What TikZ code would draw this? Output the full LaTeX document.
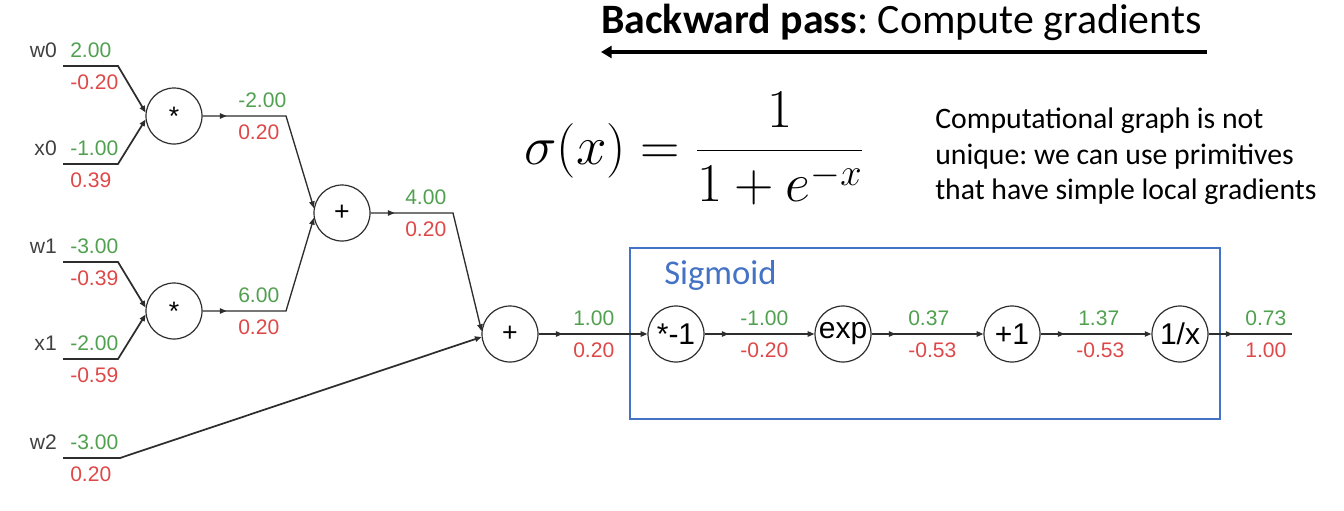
\RequirePackage{fix-cm}
\documentclass[tikz,border=0pt]{standalone}
\usepackage[no-math]{fontspec}
\newfontfamily\numfont{Liberation Sans}
\newfontfamily\calibri{Carlito}
\usetikzlibrary{arrows.meta,decorations.markings}
\definecolor{numgreen}{RGB}{80,160,80}
\definecolor{numred}{RGB}{222,72,72}
\definecolor{sigblue}{RGB}{68,114,196}
\definecolor{wiregray}{RGB}{45,45,45}
\newcommand{\astx}{\raisebox{-0.22em}{*}}
\frenchspacing
\begin{document}
\begin{tikzpicture}[x=0.75pt,y=-0.75pt,
  op/.style={circle,draw=wiregray,line width=0.9pt,minimum size=42pt,inner sep=0pt,font=\numfont\fontsize{20}{20}\selectfont},
  sop/.style={op,font=\numfont\fontsize{22.5}{22.5}\selectfont},
  wire/.style={draw=wiregray,line width=1pt},
  inwire/.style={wire,line width=1.3pt},
  tip/.style={-{Triangle[length=5pt,width=4pt]}},
  midarrow/.style={postaction={decorate},decoration={markings,mark=at position 18pt with {\arrow{Triangle[length=5pt,width=4pt]}}}},
  gv/.style={font=\numfont\fontsize{15.8}{15.8}\selectfont,text=numgreen,inner sep=0pt,anchor=base west},
  rv/.style={gv,text=numred},
  nm/.style={font=\numfont\fontsize{15.8}{15.8}\selectfont,text=black!75,inner sep=0pt,anchor=base east},
  sigbox/.style={draw=sigblue,line width=2.2pt},
  cal/.style={font=\calibri\fontsize{22.3}{26}\selectfont,inner sep=0pt,anchor=base west}
]
\useasboundingbox (0,0) rectangle (1344,510);

% title and arrow
\node[anchor=base west,inner sep=0pt,font=\calibri\fontsize{31.4}{31.4}\selectfont] (title) at (601,34) {\textbf{Backward pass}: Compute gradients};
\coordinate (ar1) at (1207,52);
\coordinate (ar0) at (601,52);
\draw[line width=3pt,-{Triangle[length=8pt,width=9pt]}] (ar1) -- (ar0);

% formula
\node[anchor=base west,inner sep=0pt,font=\fontsize{41}{46}\selectfont] (formula) at (524,164) {$\displaystyle\sigma(x)=\frac{1}{1+e^{-x}}$};

% remark
\node[cal] (r1) at (935,128) {Computational graph is not};
\node[cal] (r2) at (935,164) {unique: we can use primitives};
\node[cal] (r3) at (935,199) {that have simple local gradients};

% sigmoid box
\draw[sigbox] (630,248) rectangle (1220,419);
\node[anchor=base west,inner sep=0pt,text=sigblue,font=\calibri\fontsize{26}{26}\selectfont] (sig) at (664,284) {Sigmoid};

% operation nodes
\node[op] (mul0) at (174,116) {\astx};
\node[op] (mul1) at (174,311) {\astx};
\node[op] (add0) at (342,213) {+};
\node[op] (add1) at (510,334) {+};
\node[sop] (neg) at (676,334) {*-1};
\node[sop] (ex) at (843,334) {exp};
\node[sop] (pone) at (1012,334) {+1};
\node[sop] (inv) at (1180,334) {1/x};

% wire coordinates
\coordinate (w0s) at (63,66);   \coordinate (w0b) at (118,66);
\coordinate (x0s) at (63,164);  \coordinate (x0b) at (118,164);
\coordinate (w1s) at (63,262);  \coordinate (w1b) at (118,262);
\coordinate (x1s) at (63,359);  \coordinate (x1b) at (118,359);
\coordinate (w2s) at (63,458);  \coordinate (w2b) at (120,458);
\coordinate (m0b) at (286,116);
\coordinate (m1b) at (286,311);
\coordinate (a0b) at (453,213);
\coordinate (out) at (1292,334);

% input wires
\draw[inwire,tip] (w0s) -- (w0b) -- (mul0.173);
\draw[inwire,tip] (x0s) -- (x0b) -- (mul0.187);
\draw[inwire,tip] (w1s) -- (w1b) -- (mul1.173);
\draw[inwire,tip] (x1s) -- (x1b) -- (mul1.187);
\draw[inwire,tip] (w2s) -- (w2b) -- (add1.186);

% internal wires
\draw[wire,midarrow,tip] (mul0.east) -- (m0b) -- (add0.170);
\draw[wire,midarrow,tip] (mul1.east) -- (m1b) -- (add0.190);
\draw[wire,midarrow,tip] (add0.east) -- (a0b) -- (add1.174);
\draw[wire,midarrow,tip] (add1.east) -- (neg.west);
\draw[wire,midarrow,tip] (neg.east) -- (ex.west);
\draw[wire,midarrow,tip] (ex.east) -- (pone.west);
\draw[wire,midarrow,tip] (pone.east) -- (inv.west);
\draw[wire,midarrow] (inv.east) -- (out);

% input names
\node[nm] (nw0) at (57,57.5) {w0};
\node[nm] (nx0) at (57,155.5) {x0};
\node[nm] (nw1) at (57,253.5) {w1};
\node[nm] (nx1) at (57,350.5) {x1};
\node[nm] (nw2) at (57,449.5) {w2};

% values (green forward, red gradient)
\node[gv] (gw0) at (70,57.5) {2.00};   \node[rv] (rw0) at (70,89.5) {-0.20};
\node[gv] (gx0) at (70,155.5) {-1.00}; \node[rv] (rx0) at (70,187.5) {0.39};
\node[gv] (gw1) at (70,253.5) {-3.00}; \node[rv] (rw1) at (70,285.5) {-0.39};
\node[gv] (gx1) at (70,350.5) {-2.00}; \node[rv] (rx1) at (70,382.5) {-0.59};
\node[gv] (gw2) at (70,449.5) {-3.00}; \node[rv] (rw2) at (70,481.5) {0.20};

\node[gv] (gm0) at (238,107.5) {-2.00}; \node[rv] (rm0) at (238,139.5) {0.20};
\node[gv] (gm1) at (238,302.5) {6.00};  \node[rv] (rm1) at (238,334.5) {0.20};
\node[gv] (ga0) at (405,204.5) {4.00};  \node[rv] (ra0) at (405,236.5) {0.20};
\node[gv] (ga1) at (573,325.5) {1.00};  \node[rv] (ra1) at (573,357.5) {0.20};
\node[gv] (gng) at (740,325.5) {-1.00}; \node[rv] (rng) at (740,357.5) {-0.20};
\node[gv] (gex) at (908,325.5) {0.37};  \node[rv] (rex) at (908,357.5) {-0.53};
\node[gv] (gpo) at (1078,325.5) {1.37}; \node[rv] (rpo) at (1076,357.5) {-0.53};
\node[gv] (gin) at (1245,325.5) {0.73}; \node[rv] (rin) at (1245,357.5) {1.00};
\end{tikzpicture}
\end{document}
